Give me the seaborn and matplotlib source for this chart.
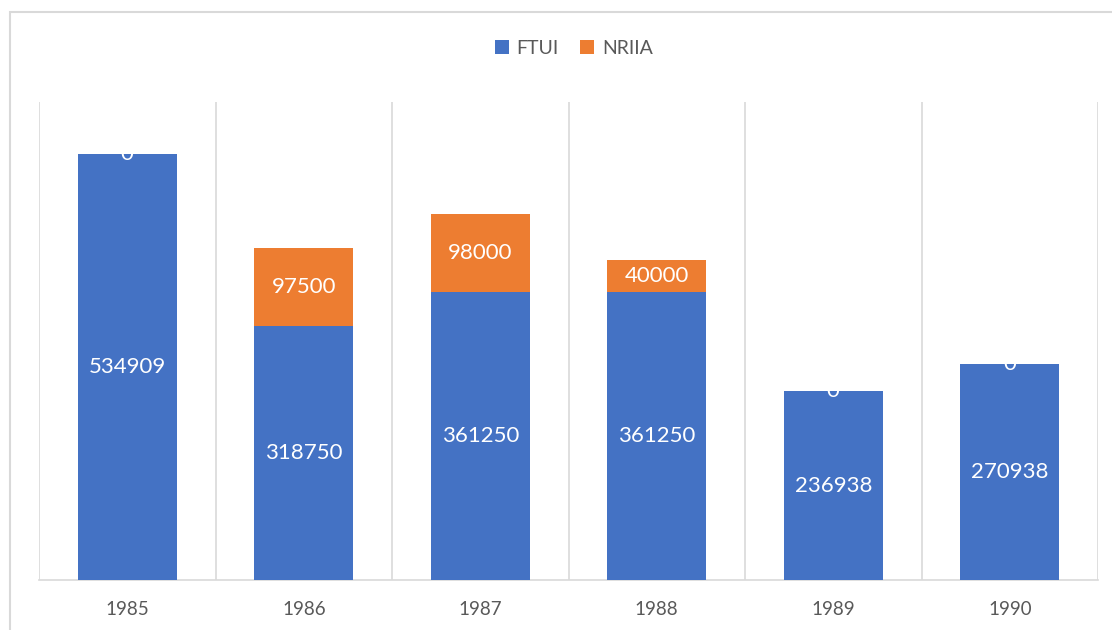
import matplotlib
matplotlib.use("Agg")
import matplotlib.pyplot as plt
from matplotlib.patches import Patch, Rectangle
import seaborn as sns
import pandas as pd

years = ["1985", "1986", "1987", "1988", "1989", "1990"]
ftui = [534909, 318750, 361250, 361250, 236938, 270938]
nriia = [0, 97500, 98000, 40000, 0, 0]
series_names = ["FTUI", "NRIIA"]

BLUE = "#4472C4"
ORANGE = "#ED7D31"
GRAY = "#D9D9D9"
TEXT = "#595959"

sns.set_theme(style="white")
plt.rcParams["font.family"] = ["Lato", "DejaVu Sans"]

df = pd.DataFrame({"year": years, "FTUI": ftui, "NRIIA": nriia})

fig = plt.figure(figsize=(11.12, 6.30), dpi=100)
ax = fig.add_axes([39 / 1112, 50 / 630, (1098 - 39) / 1112, (580 - 102) / 630])

sns.barplot(data=df, x="year", y="FTUI", color=BLUE, width=0.56,
            saturation=1, linewidth=0, ax=ax, zorder=3)
sns.barplot(data=df, x="year", y="NRIIA", bottom=df["FTUI"], color=ORANGE,
            width=0.56, saturation=1, linewidth=0, ax=ax, zorder=3)

for cont in ax.containers:
    ax.bar_label(cont, label_type="center", color="white", fontsize=16,
                 fmt="%d", zorder=4)

ax.set_xlim(-0.5, len(years) - 0.5)
ax.set_ylim(0, 600000)
for i in range(len(years) + 1):
    ax.axvline(i - 0.5, color=GRAY, lw=1.2, zorder=1)

for s in ["left", "right", "top"]:
    ax.spines[s].set_visible(False)
ax.spines["bottom"].set_color(GRAY)
ax.spines["bottom"].set_linewidth(1.2)
ax.set_yticks([])
ax.set_xlabel("")
ax.set_ylabel("")
ax.tick_params(axis="x", length=0, pad=15, labelsize=13.5, labelcolor=TEXT)

handles = [Patch(facecolor=BLUE, edgecolor="none"),
           Patch(facecolor=ORANGE, edgecolor="none")]
fig.legend(handles, series_names, loc="center", bbox_to_anchor=(574 / 1112, 1 - 48 / 630),
           ncol=2, frameon=False, fontsize=14, labelcolor=TEXT,
           handlelength=0.72, handleheight=0.72, handletextpad=0.4, columnspacing=1.1)

fig.patches.append(Rectangle((10 / 1112, -0.1), 1.2, 1 - 12 / 630 + 0.1,
                             transform=fig.transFigure, fill=False,
                             edgecolor=GRAY, lw=1.5))

fig.savefig("out.png", dpi=100)
